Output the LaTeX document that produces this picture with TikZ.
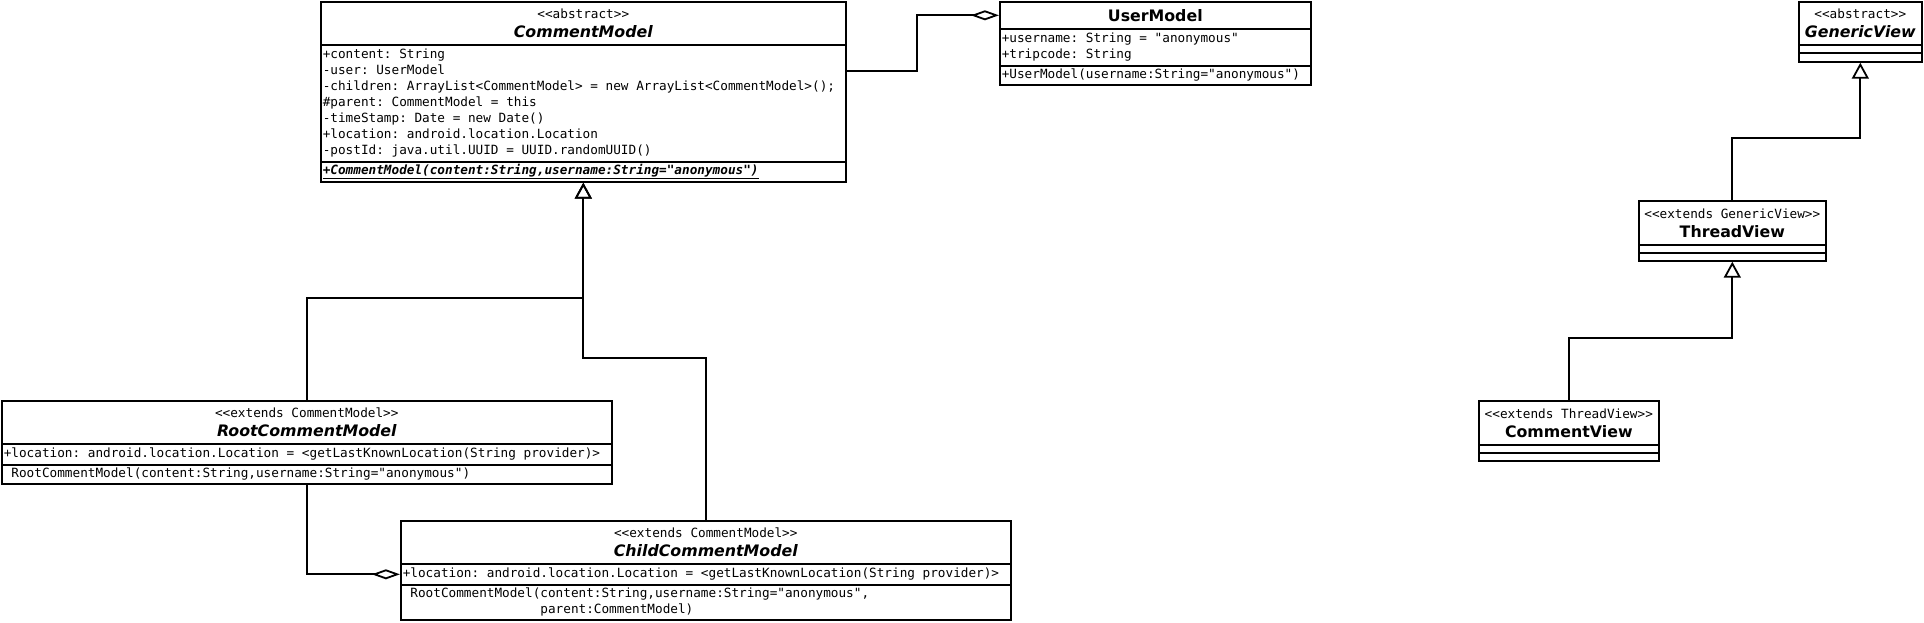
\documentclass[tikz,border=0pt]{standalone}
\usepackage{fontspec}
\setmainfont{DejaVu Sans}
\newfontfamily\umlttfamily{DejaVu Sans Mono}
\usepackage{tikz}
\usetikzlibrary{matrix}
\usetikzlibrary{arrows.meta}
\newcommand{\umlmono}{\fontsize{12.7}{16}\umlttfamily\frenchspacing}
\newcommand{\umlname}[1]{{\rmfamily\bfseries\fontsize{15.8}{18}\selectfont #1}}

\begin{document}
\begin{tikzpicture}[x=1pt, y=-1pt, line width=1.8pt, font=\umlmono,
uml/.style={matrix of nodes, matrix anchor=north west, inner sep=0pt, row sep=-\pgflinewidth, nodes in empty cells,
nodes={draw, anchor=center, inner xsep=2pt, inner ysep=0pt, align=left, text width=#1,
execute at begin node={\spaceskip=\fontcharwd\font77\relax\xspaceskip=\spaceskip}},
row 1/.style={nodes={align=center, minimum height=43pt}}},
extends/.style={-{Triangle[open, width=17pt, length=16pt]}},
aggr/.style={-{Diamond[open, width=10pt, length=28pt]}}]
\useasboundingbox (0,0) rectangle (1924,622);
\matrix[uml=521pt, row 2/.style={nodes={minimum height=117pt}}, row 3/.style={nodes={minimum height=20pt}}] (cm) at (319,0) {
{<<abstract>>\\[3pt]\umlname{\itshape CommentModel}}\\
{+content: String\\-user: UserModel\\-children: ArrayList<CommentModel> = new ArrayList<CommentModel>();\\\#parent: CommentModel = this\\-timeStamp: Date = new Date()\\+location: android.location.Location\\-postId: java.util.UUID = UUID.randomUUID()}\\
\underline{\bfseries\itshape +CommentModel(content:String,username:String="anonymous")}\\};
\matrix[uml=307pt, row 1/.style={nodes={align=center, minimum height=27pt}}, row 2/.style={nodes={minimum height=37pt}}, row 3/.style={nodes={minimum height=19pt}}] (user) at (998,0) {
\umlname{UserModel}\\
{+username: String = "anonymous"\\+tripcode: String}\\
+UserModel(username:String="anonymous")\\};
\matrix[uml=119pt, row 2/.style={nodes={minimum height=8pt}}, row 3/.style={nodes={minimum height=9pt}}] (generic) at (1797,0) {
{<<abstract>>\\[3pt]\umlname{\itshape GenericView}}\\
\\
\\};
\matrix[uml=183pt, row 1/.style={nodes={align=center, minimum height=44pt}}, row 2/.style={nodes={minimum height=8pt}}, row 3/.style={nodes={minimum height=8pt}}] (thread) at (1637,199) {
{<<extends GenericView>>\\[3pt]\umlname{ThreadView}}\\
\\
\\};
\matrix[uml=176pt, row 1/.style={nodes={align=center, minimum height=44pt}}, row 2/.style={nodes={minimum height=8pt}}, row 3/.style={nodes={minimum height=8pt}}] (cview) at (1477,399) {
{<<extends ThreadView>>\\[3pt]\umlname{CommentView}}\\
\\
\\};
\matrix[uml=606pt, row 2/.style={nodes={minimum height=21pt}}, row 3/.style={nodes={minimum height=19pt}}] (root) at (0,399) {
{<<extends CommentModel>>\\[3pt]\umlname{\itshape RootCommentModel}}\\
+location: android.location.Location = <getLastKnownLocation(String provider)>\\
\ RootCommentModel(content:String,username:String="anonymous")\\};
\matrix[uml=606pt, row 2/.style={nodes={minimum height=21pt}}, row 3/.style={nodes={minimum height=35pt}}] (child) at (399,519) {
{<<extends CommentModel>>\\[3pt]\umlname{\itshape ChildCommentModel}}\\
+location: android.location.Location = <getLastKnownLocation(String provider)>\\
{\ RootCommentModel(content:String,username:String="anonymous",\\\phantom{\ RootCommentModel(}parent:CommentModel)}\\};
\draw[extends] (root-1-1.north) -- ++(0,-102) -| (cm-3-1.south);
\draw[extends] (child-1-1.north) -- ++(0,-162) -| (cm-3-1.south);
\draw[extends] (thread-1-1.north) -- ++(0,-62) -| (generic-3-1.south);
\draw[extends] (cview-1-1.north) -- ++(0,-62) -| (thread-3-1.south);
\draw[aggr] ([yshift=32pt]cm-2-1.east) -- ++(70,0) |- (user-1-1.west);
\draw[aggr] (root-3-1.south) |- (child-2-1.west);
\end{tikzpicture}
\end{document}
